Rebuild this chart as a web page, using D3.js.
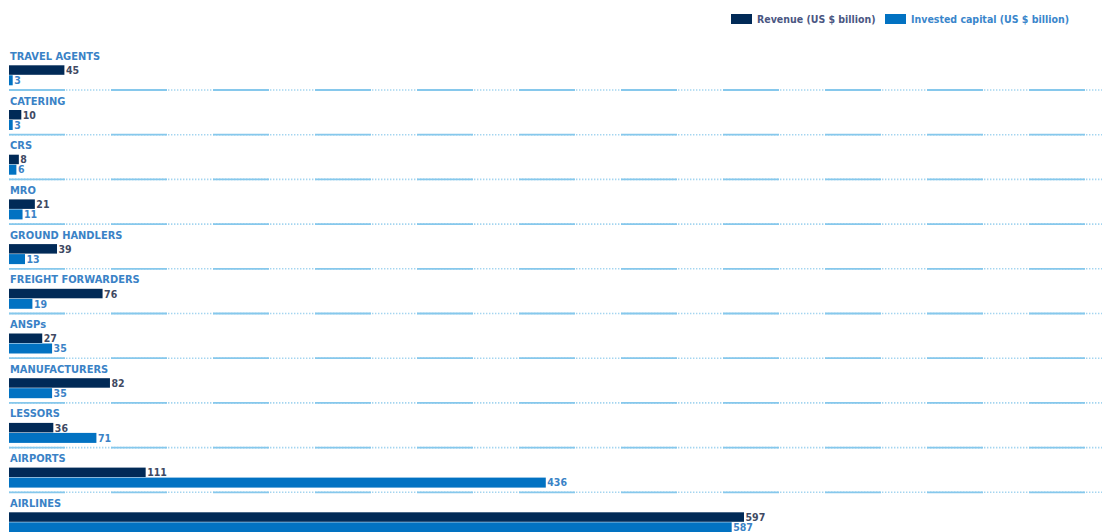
<!DOCTYPE html>
<html>
<head>
<meta charset="utf-8">
<script src="https://cdn.jsdelivr.net/npm/d3@7"></script>
<style>
  html, body { margin: 0; padding: 0; background: #ffffff; }
  svg { display: block; }
  text { font-family: "DejaVu Sans Condensed", "Liberation Sans Narrow", sans-serif; font-weight: bold; }
</style>
</head>
<body>
<svg id="chart" width="1102" height="532"></svg>
<script>
// Value chain segments, top to bottom
const categories = [
  "TRAVEL AGENTS", "CATERING", "CRS", "MRO", "GROUND HANDLERS",
  "FREIGHT FORWARDERS", "ANSPs", "MANUFACTURERS", "LESSORS", "AIRPORTS", "AIRLINES"
];
// Revenue, US $ billion
const revenue = [45, 10, 8, 21, 39, 76, 27, 82, 36, 111, 597];
// Invested capital, US $ billion
const investedCapital = [3, 3, 6, 11, 13, 19, 35, 35, 71, 436, 587];
const seriesNames = ["Revenue (US $ billion)", "Invested capital (US $ billion)"];

const W = 1102, H = 532;
const colors = { rev: "#012a57", inv: "#0272c2" };
const labelBlue = "#3a82c6";
const valueDark = "#3f4a63";
const lineBlue = "#86c8ec";

const svg = d3.select("#chart");

const x = d3.scaleLinear().domain([0, 597]).range([9, 744]);

// Each row: separator above, label, then two stacked bars
const rows = d3.scaleBand().domain(categories).range([45.3, 45.3 + 44.7 * categories.length]).padding(0);
const inner = d3.scaleBand().domain(["rev", "inv"]).range([20, 40]).padding(0);

const data = categories.map((c, i) => ({ cat: c, rev: revenue[i], inv: investedCapital[i] }));

// Separators between rows: solid stretches alternating with dotted stretches
const sepG = svg.append("g");
categories.slice(1).forEach(c => {
  const y = rows(c);
  sepG.append("line")
    .attr("x1", 9).attr("x2", W).attr("y1", y).attr("y2", y)
    .attr("stroke", lineBlue).attr("stroke-width", 1.6)
    .attr("stroke-dasharray", "1.4 1.6").attr("opacity", 0.75);
  sepG.append("line")
    .attr("x1", 9).attr("x2", W).attr("y1", y).attr("y2", y)
    .attr("stroke", lineBlue).attr("stroke-width", 1.8)
    .attr("stroke-dasharray", "56 46");
});

const row = svg.append("g").selectAll("g").data(data).join("g")
  .attr("transform", d => `translate(0,${rows(d.cat)})`);

row.append("text")
  .attr("x", 10).attr("y", 14.5)
  .attr("fill", labelBlue)
  .attr("font-size", 11)
  .text(d => d.cat);

["rev", "inv"].forEach(k => {
  row.append("rect")
    .attr("x", x(0))
    .attr("y", inner(k))
    .attr("width", d => x(d[k]) - x(0))
    .attr("height", inner.bandwidth() - (k === "rev" ? 0.5 : 0))
    .attr("fill", colors[k]);
  row.append("text")
    .attr("x", d => x(d[k]) + 1.5)
    .attr("y", inner(k) + inner.bandwidth() - 1.2)
    .attr("fill", k === "rev" ? valueDark : labelBlue)
    .attr("font-size", 10.5)
    .text(d => d[k]);
});

// Legend
const legend = svg.append("g");
const legItems = [
  { name: seriesNames[0], color: colors.rev, text: "#4a5682", x: 731 },
  { name: seriesNames[1], color: colors.inv, text: "#3a86cb", x: 885 }
];
legItems.forEach(it => {
  legend.append("rect").attr("x", it.x).attr("y", 14).attr("width", 21).attr("height", 10).attr("fill", it.color);
  legend.append("text").attr("x", it.x + 26).attr("y", 23)
    .attr("fill", it.text).attr("font-size", 10.5)
    .text(it.name);
});
</script>
</body>
</html>
